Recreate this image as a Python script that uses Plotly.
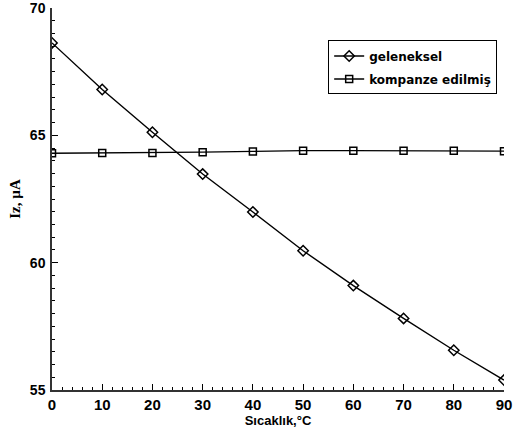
import plotly.graph_objects as go

temps = [0, 10, 20, 30, 40, 50, 60, 70, 80, 90]
geleneksel = [68.63, 66.8, 65.12, 63.48, 61.99, 60.47, 59.1, 57.81, 56.56, 55.39]
kompanze = [64.3, 64.31, 64.31, 64.34, 64.37, 64.4, 64.4, 64.4, 64.4, 64.38]

fig = go.Figure()
fig.add_trace(go.Scatter(
    x=temps, y=geleneksel, name="geleneksel", mode="lines+markers",
    legendgroup="a",
    line=dict(color="black", width=1.4),
    marker=dict(symbol="diamond-open", size=8, color="black", line=dict(width=1.5)),
))
fig.add_trace(go.Scatter(
    x=temps, y=kompanze, name="kompanze edilmiş", mode="lines+markers",
    legendgroup="b",
    line=dict(color="black", width=1.4),
    marker=dict(symbol="square-open", size=7, color="black", line=dict(width=1.5)),
))

fig.update_layout(
    width=517, height=434,
    margin=dict(l=52, r=13, t=8, b=44),
    paper_bgcolor="white", plot_bgcolor="white",
    showlegend=True,
    legend=dict(
        x=0.611, y=0.915, xanchor="left", yanchor="top",
        bordercolor="black", borderwidth=1, bgcolor="white",
        font=dict(family="DejaVu Sans, Arial, sans-serif", size=12, color="black", weight="bold"),
        itemwidth=30, tracegroupgap=4,
    ),
    xaxis=dict(
        range=[0, 90], dtick=10, tick0=0, showgrid=False, zeroline=False,
        automargin="bottom",
        showline=True, linecolor="#333", linewidth=1.5,
        ticks="inside", ticklen=6, tickcolor="black",
        minor=dict(dtick=2, ticks="inside", ticklen=3, tickcolor="black"),
        tickfont=dict(family="Arial, Liberation Sans, sans-serif", size=15, color="black", weight="bold"),
        ticklabelstandoff=0, ticklabeloverflow="allow",
        title=dict(text="Sıcaklık,°C", standoff=2,
                   font=dict(family="Arial, Liberation Sans, sans-serif", size=13, color="black", weight="bold")),
    ),
    yaxis=dict(
        range=[55, 70.001], dtick=5, tick0=55, showgrid=False, zeroline=False,
        automargin="left",
        showline=True, linecolor="#333", linewidth=1.5,
        ticks="inside", ticklen=6, tickcolor="black",
        minor=dict(dtick=0.5, ticks="inside", ticklen=3, tickcolor="black"),
        tickfont=dict(family="Arial, Liberation Sans, sans-serif", size=14, color="black", weight="bold"),
        ticklabelstandoff=2, ticklabeloverflow="allow",
        title=dict(text="Iz, µA", standoff=6,
                   font=dict(family="Times New Roman, Liberation Serif, serif", size=15, color="black", weight="bold")),
    ),
)

fig.write_html("out.html", config={"displayModeBar": False},
               post_script="document.body.style.margin='0px';")
